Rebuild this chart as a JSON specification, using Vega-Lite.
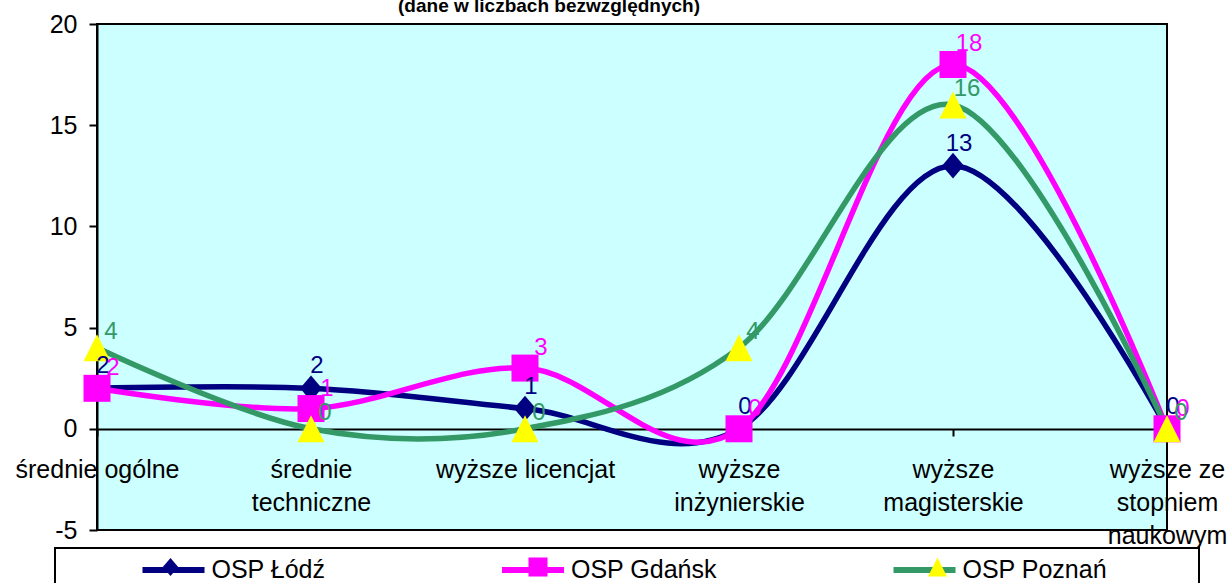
{
  "$schema": "https://vega.github.io/schema/vega-lite/v6.json",
  "width": 1070,
  "height": 506,
  "autosize": {"type": "none"},
  "padding": {"left": 97, "top": 24, "right": 64, "bottom": 53},
  "background": "#FFFFFF",
  "title": {
    "text": "(dane w liczbach bezwzględnych)",
    "frame": "group",
    "anchor": "middle",
    "dx": -83,
    "offset": -4,
    "font": "Liberation Sans",
    "fontSize": 19,
    "fontWeight": "bold",
    "color": "#000000"
  },
  "data": {
    "values": [
      {"wyksztalcenie": "średnie ogólne", "jednostka": "OSP Łódź", "liczba": 2},
      {"wyksztalcenie": "średnie techniczne", "jednostka": "OSP Łódź", "liczba": 2},
      {"wyksztalcenie": "wyższe licencjat", "jednostka": "OSP Łódź", "liczba": 1},
      {"wyksztalcenie": "wyższe inżynierskie", "jednostka": "OSP Łódź", "liczba": 0},
      {"wyksztalcenie": "wyższe magisterskie", "jednostka": "OSP Łódź", "liczba": 13},
      {"wyksztalcenie": "wyższe ze stopniem naukowym", "jednostka": "OSP Łódź", "liczba": 0},
      {"wyksztalcenie": "średnie ogólne", "jednostka": "OSP Gdańsk", "liczba": 2},
      {"wyksztalcenie": "średnie techniczne", "jednostka": "OSP Gdańsk", "liczba": 1},
      {"wyksztalcenie": "wyższe licencjat", "jednostka": "OSP Gdańsk", "liczba": 3},
      {"wyksztalcenie": "wyższe inżynierskie", "jednostka": "OSP Gdańsk", "liczba": 0},
      {"wyksztalcenie": "wyższe magisterskie", "jednostka": "OSP Gdańsk", "liczba": 18},
      {"wyksztalcenie": "wyższe ze stopniem naukowym", "jednostka": "OSP Gdańsk", "liczba": 0},
      {"wyksztalcenie": "średnie ogólne", "jednostka": "OSP Poznań", "liczba": 4},
      {"wyksztalcenie": "średnie techniczne", "jednostka": "OSP Poznań", "liczba": 0},
      {"wyksztalcenie": "wyższe licencjat", "jednostka": "OSP Poznań", "liczba": 0},
      {"wyksztalcenie": "wyższe inżynierskie", "jednostka": "OSP Poznań", "liczba": 4},
      {"wyksztalcenie": "wyższe magisterskie", "jednostka": "OSP Poznań", "liczba": 16},
      {"wyksztalcenie": "wyższe ze stopniem naukowym", "jednostka": "OSP Poznań", "liczba": 0}
    ]
  },
  "encoding": {
    "x": {
      "field": "wyksztalcenie",
      "type": "nominal",
      "sort": ["średnie ogólne", "średnie techniczne", "wyższe licencjat", "wyższe inżynierskie", "wyższe magisterskie", "wyższe ze stopniem naukowym"],
      "scale": {"type": "point", "padding": 0},
      "axis": {
        "title": null,
        "offset": -101,
        "domainColor": "#000000",
        "domainWidth": 2,
        "tickColor": "#000000",
        "tickWidth": 2,
        "tickSize": 7,
        "labelFont": "Liberation Sans",
        "labelFontSize": 25,
        "labelColor": "#000000",
        "labelAngle": 0,
        "labelPadding": 21,
        "labelLineHeight": 33,
        "labelFlush": false,
        "labelOverlap": false,
        "labelBound": false,
        "labelLimit": 0,
        "labelExpr": "datum.value == 'średnie techniczne' ? ['średnie', 'techniczne'] : datum.value == 'wyższe inżynierskie' ? ['wyższe', 'inżynierskie'] : datum.value == 'wyższe magisterskie' ? ['wyższe', 'magisterskie'] : datum.value == 'wyższe ze stopniem naukowym' ? ['wyższe ze', 'stopniem', 'naukowym'] : datum.label"
      }
    },
    "y": {
      "field": "liczba",
      "type": "quantitative",
      "scale": {"domain": [-5, 20], "nice": false, "zero": false},
      "axis": {
        "title": null,
        "values": [-5, 0, 5, 10, 15, 20],
        "grid": false,
        "domainColor": "#000000",
        "domainWidth": 2,
        "tickColor": "#000000",
        "tickWidth": 2,
        "tickSize": 8,
        "labelFont": "Liberation Sans",
        "labelFontSize": 25,
        "labelColor": "#000000",
        "labelPadding": 12,
        "labelFlush": false,
        "labelExpr": "'' + datum.value"
      }
    }
  },
  "layer": [
    {
      "mark": {"type": "line", "interpolate": "cardinal", "strokeWidth": 5.5},
      "encoding": {
        "order": {"value": null},
        "stroke": {
          "field": "jednostka",
          "type": "nominal",
          "sort": ["OSP Łódź", "OSP Gdańsk", "OSP Poznań"],
          "scale": {"range": ["#000080", "#FF00FF", "#339966"]},
          "legend": {
            "orient": "none",
            "legendX": -42,
            "legendY": 524,
            "direction": "horizontal",
            "columns": 3,
            "columnPadding": 163.5,
            "gridAlign": "each",
            "title": " ",
            "titleOrient": "left",
            "titlePadding": 76,
            "titleFontSize": 24,
            "padding": 5,
            "symbolType": "M-0.75,0H3.68",
            "symbolSize": 784,
            "symbolStrokeWidth": 6,
            "symbolFillColor": "transparent",
            "labelFont": "Liberation Sans",
            "labelFontSize": 25,
            "labelColor": "#000000",
            "labelOffset": 41.5,
            "labelLimit": 600
          }
        }
      }
    },
    {
      "mark": {"type": "point", "filled": true, "size": 1576, "opacity": 1, "strokeWidth": 0},
      "encoding": {
        "fill": {
          "field": "jednostka",
          "type": "nominal",
          "scale": {"domain": ["OSP Łódź", "OSP Gdańsk", "OSP Poznań"], "range": ["#000080", "#FF00FF", "#FFFF00"]},
          "legend": {
            "orient": "none",
            "legendX": -42,
            "legendY": 524,
            "direction": "horizontal",
            "columns": 3,
            "columnPadding": 163.5,
            "gridAlign": "each",
            "title": " ",
            "titleOrient": "left",
            "titlePadding": 76,
            "titleFontSize": 24,
            "padding": 5,
            "strokeColor": "#000000",
            "symbolSize": 784,
            "symbolOffset": 20.5,
            "symbolStrokeWidth": 0,
            "labelFont": "Liberation Sans",
            "labelFontSize": 25,
            "labelOpacity": 0,
            "labelOffset": 41.5,
            "labelLimit": 600,
            "labelExpr": "datum.label == 'OSP Poznań' ? datum.label + '0000' : datum.label"
          }
        },
        "shape": {
          "field": "jednostka",
          "type": "nominal",
          "scale": {"domain": ["OSP Łódź", "OSP Gdańsk", "OSP Poznań"], "range": ["M0,-0.65L0.55,0L0,0.65L-0.55,0Z", "M-0.68,-0.68H0.68V0.68H-0.68Z", "M0,-0.68L0.68,0.68L-0.68,0.68Z"]},
          "legend": {
            "orient": "none",
            "legendX": -42,
            "legendY": 524,
            "direction": "horizontal",
            "columns": 3,
            "columnPadding": 163.5,
            "gridAlign": "each",
            "title": " ",
            "titleOrient": "left",
            "titlePadding": 76,
            "titleFontSize": 24,
            "padding": 5,
            "strokeColor": "#000000",
            "symbolSize": 784,
            "symbolOffset": 20.5,
            "symbolStrokeWidth": 0,
            "labelFont": "Liberation Sans",
            "labelFontSize": 25,
            "labelOpacity": 0,
            "labelOffset": 41.5,
            "labelLimit": 600,
            "labelExpr": "datum.label == 'OSP Poznań' ? datum.label + '0000' : datum.label"
          }
        }
      }
    },
    {
      "transform": [{"filter": "datum.jednostka == 'OSP Łódź'"}],
      "mark": {"type": "text", "font": "Liberation Sans", "fontSize": 24, "dx": 6, "dy": -22, "align": "center", "baseline": "middle", "color": "#000080"},
      "encoding": {"text": {"field": "liczba", "type": "quantitative"}}
    },
    {
      "transform": [{"filter": "datum.jednostka == 'OSP Gdańsk'"}],
      "mark": {"type": "text", "font": "Liberation Sans", "fontSize": 24, "dx": 16, "dy": -20, "align": "center", "baseline": "middle", "color": "#FF00FF"},
      "encoding": {"text": {"field": "liczba", "type": "quantitative"}}
    },
    {
      "transform": [{"filter": "datum.jednostka == 'OSP Poznań'"}],
      "mark": {"type": "text", "font": "Liberation Sans", "fontSize": 24, "dx": 14, "dy": -16, "align": "center", "baseline": "middle", "color": "#339966"},
      "encoding": {"text": {"field": "liczba", "type": "quantitative"}}
    }
  ],
  "config": {
    "font": "Liberation Sans",
    "view": {"fill": "#CCFFFF", "stroke": "#000000", "strokeWidth": 2},
    "legend": {"strokeWidth": 2}
  }
}
